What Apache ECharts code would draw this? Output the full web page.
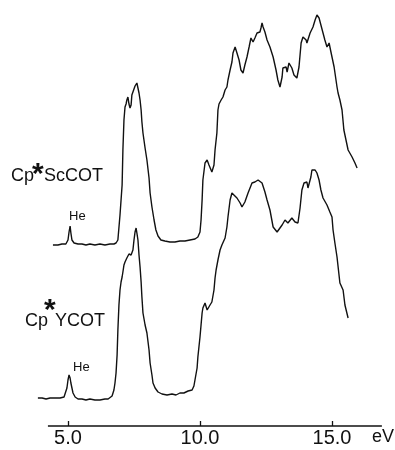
<!DOCTYPE html>
<html>
<head>
<meta charset="utf-8">
<script src="https://cdn.jsdelivr.net/npm/echarts@6/dist/echarts.min.js"></script>
<style>html,body{margin:0;padding:0;background:#fff;}#c{width:395px;height:450px;}</style>
</head>
<body>
<div id="c"></div>
<script>
// Photon energy (eV) and intensity (arb. units, relative to each trace's baseline)
var scEnergy = [4.43,4.62,4.77,4.92,5.00,5.04,5.08,5.11,5.15,5.23,5.38,5.53,5.68,5.83,6.02,6.21,6.40,6.59,6.74,6.82,6.89,6.97,7.01,7.05,7.08,7.12,7.16,7.20,7.23,7.27,7.31,7.35,7.39,7.42,7.46,7.50,7.54,7.58,7.61,7.65,7.69,7.73,7.77,7.80,7.84,7.92,7.99,8.07,8.11,8.18,8.26,8.33,8.41,8.52,8.67,8.86,9.05,9.24,9.43,9.62,9.81,9.92,10.00,10.04,10.08,10.11,10.19,10.27,10.34,10.38,10.45,10.53,10.57,10.64,10.68,10.72,10.80,10.87,10.95,11.02,11.06,11.14,11.21,11.25,11.33,11.40,11.48,11.55,11.59,11.63,11.70,11.78,11.86,11.93,12.01,12.08,12.16,12.23,12.27,12.31,12.35,12.39,12.46,12.54,12.65,12.77,12.88,12.95,13.03,13.11,13.14,13.26,13.30,13.37,13.48,13.56,13.67,13.75,13.79,13.83,13.90,14.02,14.05,14.17,14.28,14.36,14.43,14.51,14.58,14.66,14.73,14.81,14.89,14.96,15.00,15.08,15.19,15.23,15.30,15.38,15.45,15.53,15.61,15.76,15.87,15.95];
var scIntensity = [0,0,1,1,5,13,19,12,5,2,1,1,0,1,0,1,0,1,1,2,5,30,45,60,95,125,138,141,145,148,141,137,140,150,153,155,159,161,162,157,152,145,135,123,112,97,85,67,52,38,25,15,9,5,4,3,3,4,4,5,6,8,13,25,45,65,82,85,80,78,73,80,95,112,135,141,145,148,155,158,165,175,183,192,198,192,185,175,173,172,180,188,198,207,203,207,212,211,213,217,222,218,213,205,198,188,175,165,158,168,177,178,173,182,177,170,167,178,190,202,208,205,202,212,218,225,230,227,220,212,205,198,202,193,188,178,158,152,145,135,115,105,95,88,82,77];

var yEnergy = [3.86,4.02,4.17,4.32,4.51,4.70,4.85,4.92,4.96,5.00,5.04,5.08,5.11,5.15,5.19,5.27,5.38,5.53,5.68,5.83,6.02,6.21,6.40,6.52,6.59,6.67,6.74,6.78,6.82,6.86,6.89,6.93,6.97,7.01,7.05,7.08,7.12,7.16,7.20,7.23,7.27,7.31,7.35,7.39,7.42,7.46,7.50,7.54,7.58,7.61,7.65,7.69,7.73,7.77,7.80,7.84,7.92,7.99,8.07,8.11,8.18,8.22,8.30,8.41,8.56,8.75,8.94,9.09,9.24,9.39,9.55,9.70,9.77,9.81,9.89,9.92,9.96,10.00,10.04,10.08,10.11,10.19,10.23,10.27,10.30,10.34,10.38,10.45,10.49,10.53,10.57,10.61,10.68,10.76,10.83,10.95,11.02,11.06,11.14,11.21,11.25,11.40,11.52,11.59,11.70,11.82,11.97,12.08,12.20,12.35,12.46,12.54,12.65,12.77,12.92,12.95,13.11,13.22,13.33,13.48,13.60,13.71,13.79,13.86,13.94,14.05,14.09,14.20,14.24,14.36,14.43,14.51,14.58,14.66,14.81,14.92,15.00,15.04,15.11,15.19,15.30,15.42,15.49,15.61];
var yIntensity = [1,1,0,1,1,1,2,4,11,19,24,21,16,11,6,2,0,0,-1,0,-1,-1,0,0,1,3,9,16,26,44,69,94,109,117,122,127,134,137,139,141,143,145,146,144,142,149,159,167,171,166,159,144,132,117,102,86,74,66,49,36,24,16,11,7,5,4,5,4,6,6,8,9,13,19,31,42,52,62,74,86,91,96,97,89,87,91,94,97,99,109,121,129,139,149,154,161,172,182,199,206,207,201,196,192,197,206,216,217,219,216,207,199,189,172,167,166,174,179,176,181,177,176,191,209,216,217,211,222,229,229,226,219,209,201,194,187,182,169,156,142,116,109,94,81];

var traceOffsets = [181, 27];           // vertical offset of each trace
var labelParts = [['Cp', '*', 'ScCOT'], ['Cp', '*', 'YCOT']];
var tickValues = [5, 10, 15];
var axisRange = [4.24, 16.89];
var viewRange = [3.864, 16.894];

function build(en, inten, off) {
  var out = [];
  for (var i = 0; i < en.length; i++) out.push([en[i], inten[i] + off]);
  return out;
}

var txt = {fontFamily: 'Liberation Sans', fontSize: 18, fill: '#111'};
var star = {fontFamily: 'Liberation Sans', fontWeight: 'bold', fontSize: 30, fill: '#111'};
function t(left, top, text, st) {
  return {type: 'text', left: left, top: top, style: Object.assign({text: text}, st)};
}

var chart = echarts.init(document.getElementById('c'), null, {renderer: 'canvas'});
var lineStyle = {color: '#111', width: 1.4};
chart.setOption({
  backgroundColor: '#fff',
  animation: false,
  grid: {left: 38, right: 13, top: 10, bottom: 24},
  xAxis: {
    type: 'value', min: viewRange[0], max: viewRange[1],
    axisLine: {show: false},
    splitLine: {show: false},
    axisTick: {show: true, inside: true, length: 5, customValues: tickValues, lineStyle: {color: '#111', width: 1.3}},
    axisLabel: {show: true, customValues: tickValues, margin: 2, color: '#111',
      fontFamily: 'Liberation Sans', fontSize: 20,
      formatter: function (v) { return v.toFixed(1); }}
  },
  yAxis: {type: 'value', min: 0, max: 416, show: false},
  series: [
    {name: 'Cp*ScCOT', type: 'line', showSymbol: false, symbol: 'none', lineStyle: lineStyle,
     data: build(scEnergy, scIntensity, traceOffsets[0]),
     markLine: {silent: true, symbol: ['none', 'none'], label: {show: false},
       lineStyle: {color: '#111', width: 1.5, type: 'solid'},
       data: [[{coord: [axisRange[0], 0]}, {coord: [axisRange[1], 0]}]]}},
    {name: 'Cp*YCOT', type: 'line', showSymbol: false, symbol: 'none', lineStyle: lineStyle,
     data: build(yEnergy, yIntensity, traceOffsets[1])}
  ],
  graphic: [
    t(11, 167, labelParts[0][0], txt),
    t(32, 160, labelParts[0][1], star),
    t(44, 167, labelParts[0][2], txt),
    t(25, 312, labelParts[1][0], txt),
    t(44, 296, labelParts[1][1], star),
    t(55, 312, labelParts[1][2], txt),
    t(69, 210, 'He', {fontFamily: 'Liberation Sans', fontSize: 13, fill: '#111'}),
    t(73, 361, 'He', {fontFamily: 'Liberation Sans', fontSize: 13, fill: '#111'}),
    t(372, 428, 'eV', {fontFamily: 'Liberation Sans', fontSize: 18, fill: '#111'})
  ]
});
</script>
</body>
</html>
